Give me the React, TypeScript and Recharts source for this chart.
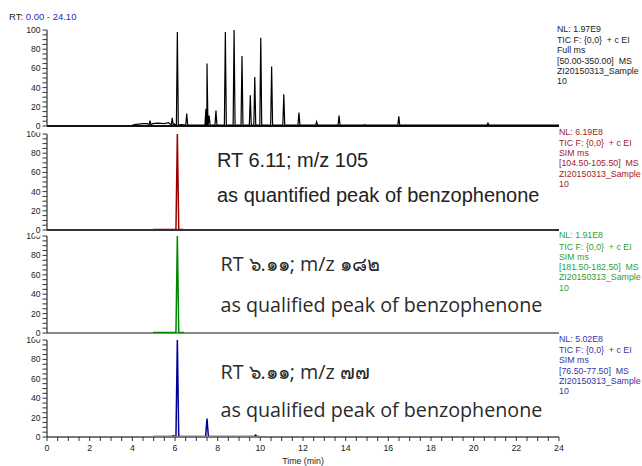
import React from "react";
import { LineChart, Line, XAxis, YAxis, ReferenceLine } from "recharts";

// ---------- data ----------
const xLabelTicks = [0, 2, 4, 6, 8, 10, 12, 14, 16, 18, 20, 22, 24];
const yLabelTicks = [0, 20, 40, 60, 80, 100];

// Panel 1: TIC full scan (black)
const ticBaseT = [3.97, 4.1, 4.3, 4.5, 4.7, 4.95, 5.2, 5.5, 5.7, 5.78, 5.96, 6.3, 6.8, 7.2, 8.1, 9.3, 10.3, 11.5, 12.3, 13.2, 14.5, 15.5, 17.5, 19, 22, 24];
const ticBaseV = [0.5, 1.5, 2, 2.5, 2.5, 2.5, 3, 2.5, 3.5, 2, 2, 1.5, 1, 1, 1, 1, 1, 1, 1, 1, 1, 1, 1, 1, 1, 1];
const ticPeakT = [4.83, 5.87, 6.11, 6.55, 7.45, 7.5, 7.6, 7.92, 8.36, 8.77, 9.14, 9.53, 9.74, 10.02, 10.53, 11.1, 11.81, 12.64, 13.69, 14.9, 16.49, 20.67];
const ticPeakH = [5.5, 8.5, 98, 13, 18, 65, 11, 16, 98, 100, 73, 32, 51, 92, 62, 33, 14, 4.5, 11, 1.5, 10, 3];

// Panel 2: SIM m/z 105 (red)
const sim105BaseT = [4.97, 5.5, 5.85, 5.95, 6.3, 6.38];
const sim105BaseV = [0.4, 0.4, 0.6, 0.5, 0.5, 0.4];
const sim105PeakT = [6.11];
const sim105PeakH = [100];

// Panel 3: SIM m/z 182 (green)
const sim182BaseT = [4.97, 5.5, 5.9, 6.3, 6.42];
const sim182BaseV = [0.4, 0.4, 0.5, 0.5, 0.4];
const sim182PeakT = [6.11];
const sim182PeakH = [100];

// Panel 4: SIM m/z 77 (blue)
const sim77BaseT = [4.98, 5.5, 5.8, 6.35, 7.0, 7.4, 7.7, 8.5, 9.5, 9.95];
const sim77BaseV = [0.4, 0.4, 0.5, 0.6, 0.5, 0.5, 0.5, 0.5, 0.5, 0.4];
const sim77PeakT = [5.92, 6.11, 7.5, 9.78];
const sim77PeakH = [1.5, 100, 19, 2];

type Pt = { t: number; v: number };

function buildTrace(baseT: number[], baseV: number[], peakT: number[], peakH: number[], hw: number, edge: number): Pt[] {
  const pts: Pt[] = baseT.map((t, i) => ({ t, v: baseV[i] }));
  peakT.forEach((t, i) => {
    pts.push({ t: t - hw, v: edge });
    pts.push({ t, v: peakH[i] });
    pts.push({ t: t + hw, v: edge });
  });
  pts.sort((a, b) => a.t - b.t);
  return pts;
}

const ticData = buildTrace(ticBaseT, ticBaseV, ticPeakT, ticPeakH, 0.045, 1);
const sim105Data = buildTrace(sim105BaseT, sim105BaseV, sim105PeakT, sim105PeakH, 0.065, 0.5);
const sim182Data = buildTrace(sim182BaseT, sim182BaseV, sim182PeakT, sim182PeakH, 0.065, 0.5);
const sim77Data = buildTrace(sim77BaseT, sim77BaseV, sim77PeakT, sim77PeakH, 0.065, 0.5);

const yTicks: number[] = [];
for (let v = 0; v <= 100; v += 5) yTicks.push(v);
const xTicks: number[] = [];
for (let v = 0; v <= 24; v += 0.5) xTicks.push(v);

const axisFont = "Liberation Sans, Arial, sans-serif";

// ---------- ticks ----------
const YTick = (props: any) => {
  const { x, y, payload, mask } = props;
  const val = payload.value;
  return (
    <g>
      <line x1={x - 4.5} y1={y} x2={x} y2={y} stroke="#333" strokeWidth={1} />
      {mask && val === 0 && <rect x={x - 13} y={y - 4} width={6.5} height={10.5} fill="#fff" />}
      {yLabelTicks.includes(val) && (
        <text x={x - 6.5} y={y + 3} textAnchor="end" fontSize={8.6} fontFamily={axisFont} fill="#222">
          {val}
        </text>
      )}
    </g>
  );
};

const XTick = (props: any) => {
  const { x, y, payload } = props;
  const val = payload.value;
  return (
    <g>
      <line x1={x} y1={y} x2={x} y2={y + 4} stroke="#333" strokeWidth={1} />
      {xLabelTicks.includes(val) && (
        <text x={x} y={y + 14} textAnchor="middle" fontSize={8.8} fontFamily={axisFont} fill="#222">
          {val}
        </text>
      )}
    </g>
  );
};

const W = 642;
const PLOT_LEFT = 47;
const PLOT_RIGHT = 559;
const MT = 6;

type PanelProps = {
  top: number;
  h: number;
  data: Pt[];
  color: string;
  width: number;
  baseColor: string;
  last?: boolean;
};

const Panel = ({ top, h, data, color, width, baseColor, last }: PanelProps) => {
  const xAxisH = last ? 29 : 0;
  const mb = last ? 0 : 8;
  return (
    <div style={{ position: "absolute", left: 0, top: top - MT }}>
      <LineChart
        width={W}
        height={MT + h + xAxisH + mb}
        data={data}
        margin={{ top: MT, right: W - PLOT_RIGHT, bottom: mb, left: 0 }}
      >
        <XAxis
          dataKey="t"
          type="number"
          domain={[0, 24]}
          ticks={xTicks}
          interval={0}
          hide={!last}
          height={xAxisH}
          tickSize={0}
          tickMargin={0}
          tickLine={false}
          axisLine={{ stroke: "#7a7a7a", strokeWidth: 2 }}
          tick={<XTick />}
          allowDataOverflow
        />
        <YAxis
          type="number"
          domain={[0, 100]}
          ticks={yTicks}
          interval={0}
          width={PLOT_LEFT}
          tickSize={0}
          tickMargin={0}
          tickLine={false}
          axisLine={{ stroke: "#333", strokeWidth: 1.2 }}
          tick={<YTick mask={!last} />}
          allowDataOverflow
        />
        {!last && <ReferenceLine y={0} stroke={baseColor} strokeWidth={2} />}
        <Line
          type="linear"
          dataKey="v"
          stroke={color}
          strokeWidth={width}
          dot={false}
          activeDot={false}
          isAnimationActive={false}
        />
      </LineChart>
    </div>
  );
};

const InfoBlock = ({ x, ys, lines, color }: { x: number; ys: number[]; lines: string[]; color: string }) => (
  <g>
    {lines.map((s, i) => (
      <text key={i} x={x} y={ys[i]} fontSize={8.8} fontFamily={axisFont} fill={color} style={{ whiteSpace: "pre" }}>
        {s}
      </text>
    ))}
  </g>
);

export default function App() {
  return (
    <div style={{ position: "absolute", left: 0, top: 0, width: W, height: 466, background: "#fff", overflow: "hidden" }}>
      <Panel top={340} h={97} data={sim77Data} color="#000099" width={1.5} baseColor="#7a7a7a" last />
      <Panel top={236} h={97} data={sim182Data} color="#008800" width={1.5} baseColor="#888" />
      <Panel top={134} h={96} data={sim105Data} color="#990000" width={1.5} baseColor="#333" />
      <Panel top={30} h={96} data={ticData} color="#000" width={1.2} baseColor="#111" />

      <svg width={W} height={466} style={{ position: "absolute", left: 0, top: 0, pointerEvents: "none" }}>
        <text x={9} y={20} fontSize={9.5} fontFamily={axisFont} fill="#222">
          RT: <tspan fill="#2c2cc0">0.00 - 24.10</tspan>
        </text>

        <InfoBlock
          x={557}
          ys={[31.5, 43, 53.3, 63.7, 74, 84]}
          color="#222"
          lines={["NL: 1.97E9", "TIC F: {0,0}  + c EI", "Full ms", "[50.00-350.00]  MS", "ZI20150313_Sample", "10"]}
        />
        <InfoBlock
          x={559}
          ys={[135.3, 146.3, 156.3, 166.3, 177, 187]}
          color="#a3202a"
          lines={["NL: 6.19E8", "TIC F: {0,0}  + c EI", "SIM ms", "[104.50-105.50]  MS", "ZI20150313_Sample", "10"]}
        />
        <InfoBlock
          x={559}
          ys={[238, 249.7, 259.7, 270.3, 280.3, 291.3]}
          color="#2f9f2f"
          lines={["NL: 1.91E8", "TIC F: {0,0}  + c EI", "SIM ms", "[181.50-182.50]  MS", "ZI20150313_Sample", "10"]}
        />
        <InfoBlock
          x={559}
          ys={[341.5, 353, 363.3, 373.7, 384, 394]}
          color="#3535a8"
          lines={["NL: 5.02E8", "TIC F: {0,0}  + c EI", "SIM ms", "[76.50-77.50]  MS", "ZI20150313_Sample", "10"]}
        />

        <text x={217} y={167} fontSize={20} fontFamily={axisFont} fill="#222">
          RT 6.11; m/z 105
        </text>
        <text x={217} y={202} fontSize={20} fontFamily={axisFont} fill="#222">
          as quantified peak of benzophenone
        </text>

        <text x={220.5} y={271} fontSize={19.7} fontFamily="Open Sans, sans-serif" fill="#2a2a2a">
          RT ๖.๑๑; m/z ๑๘๒
        </text>
        <text x={220.5} y={312} fontSize={19.7} fontFamily="Open Sans, sans-serif" fill="#2a2a2a">
          as qualified peak of benzophenone
        </text>

        <text x={220.5} y={379} fontSize={19.7} fontFamily="Open Sans, sans-serif" fill="#2a2a2a">
          RT ๖.๑๑; m/z ๗๗
        </text>
        <text x={220.5} y={417} fontSize={19.7} fontFamily="Open Sans, sans-serif" fill="#2a2a2a">
          as qualified peak of benzophenone
        </text>

        <text x={303} y={464} textAnchor="middle" fontSize={8.8} fontFamily={axisFont} fill="#222">
          Time (min)
        </text>
      </svg>
    </div>
  );
}
